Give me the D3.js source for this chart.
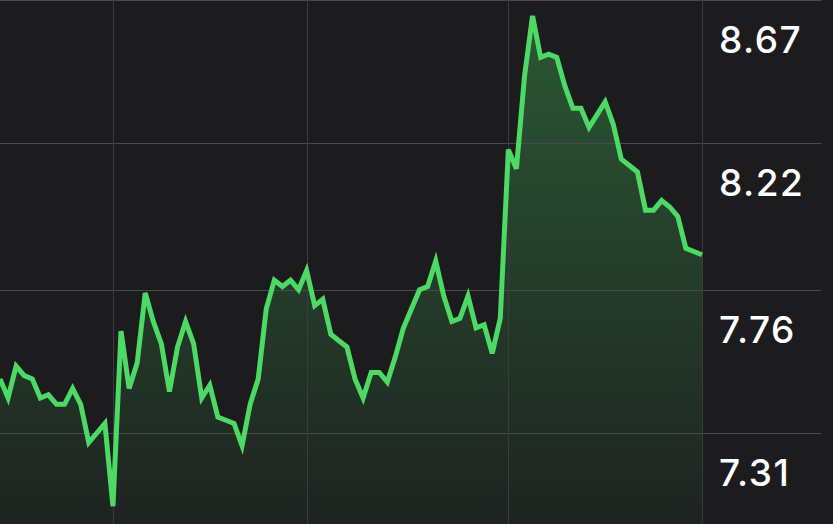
<!DOCTYPE html>
<html>
<head>
<meta charset="utf-8">
<script src="https://cdn.jsdelivr.net/npm/d3@7"></script>
<style>
body { margin: 0; background: #1c1c1e; }
</style>
</head>
<body>
<script>

// price points, one per session
var prices = [
 7.48, 7.42, 7.52, 7.49, 7.48, 7.42, 7.43, 7.40, 7.40, 7.45,
 7.40, 7.28, 7.31, 7.34, 7.08, 7.63, 7.45, 7.53, 7.75, 7.66,
 7.59, 7.44, 7.58, 7.66, 7.59, 7.42, 7.46, 7.36, 7.35, 7.34,
 7.27, 7.40, 7.48, 7.70, 7.79, 7.77, 7.79, 7.76, 7.82, 7.71,
 7.73, 7.62, 7.60, 7.58, 7.48, 7.42, 7.50, 7.50, 7.47, 7.55,
 7.64, 7.70, 7.76, 7.77, 7.85, 7.74, 7.66, 7.67, 7.74, 7.64,
 7.65, 7.56, 7.67, 8.20, 8.14, 8.43, 8.62, 8.49, 8.50, 8.49,
 8.40, 8.33, 8.33, 8.27, 8.31, 8.35, 8.28, 8.17, 8.15, 8.13,
 8.01, 8.01, 8.04, 8.02, 7.99, 7.89, 7.88, 7.87
];

// y gridlines / labels
var tickValues = [8.67, 8.22, 7.76, 7.31];
var tickLabels = ["8.67", "8.22", "7.76", "7.31"];

// index of the points where the vertical gridlines sit
var vGridIdx = [14, 38, 63, 87];

var w = 833,
    h = 524,
    plotRight = 702;

var svg = d3.select("body")
	.append("svg")
	.attr("width", w)
	.attr("height", h)
	.style("display", "block");

svg.append("rect")
	.attr("width", w)
	.attr("height", h)
	.attr("fill", "#1c1c1e");

var x = d3.scaleLinear()
	.domain([0, prices.length - 1])
	.range([0, plotRight]);

var y = d3.scaleLinear()
	.domain([7.31, 8.67])
	.range([433, 0]);

// gradient under the line
var grad = svg.append("defs").append("linearGradient")
	.attr("id", "fillGrad")
	.attr("gradientUnits", "userSpaceOnUse")
	.attr("x1", 0).attr("y1", 0)
	.attr("x2", 0).attr("y2", h);
grad.append("stop").attr("offset", "0%").attr("stop-color", "#4cd964").attr("stop-opacity", 0.32);
grad.append("stop").attr("offset", "100%").attr("stop-color", "#4cd964").attr("stop-opacity", 0.04);

var area = d3.area()
	.x(function(d, i) { return x(i); })
	.y0(h)
	.y1(function(d) { return y(d); });

svg.append("path")
	.datum(prices)
	.attr("d", area)
	.attr("fill", "url(#fillGrad)");

// grid
svg.selectAll(".hgrid")
	.data(tickValues)
	.enter()
	.append("line")
	.attr("class", "hgrid")
	.attr("x1", 0)
	.attr("x2", 821)
	.attr("y1", function(d) { return Math.round(y(d)) + 0.5; })
	.attr("y2", function(d) { return Math.round(y(d)) + 0.5; })
	.attr("stroke", "#4a4a4c")
	.attr("stroke-width", 1);

svg.selectAll(".vgrid")
	.data(vGridIdx)
	.enter()
	.append("line")
	.attr("class", "vgrid")
	.attr("x1", function(d) { return Math.round(x(d)) + 0.5; })
	.attr("x2", function(d) { return Math.round(x(d)) + 0.5; })
	.attr("y1", 0)
	.attr("y2", h)
	.attr("stroke", "#3c3c3e")
	.attr("stroke-width", 1);

var line = d3.line()
	.x(function(d, i) { return x(i); })
	.y(function(d) { return y(d); });

svg.append("path")
	.datum(prices)
	.attr("d", line)
	.attr("fill", "none")
	.attr("stroke", "#4cd964")
	.attr("stroke-width", 5)
	.attr("stroke-linejoin", "miter")
	.attr("stroke-linecap", "butt");

svg.selectAll(".lbl")
	.data(tickValues)
	.enter()
	.append("text")
	.attr("class", "lbl")
	.attr("x", 719)
	.attr("y", function(d) { return y(d) + 53; })
	.attr("fill", "#ffffff")
	.style("font-family", "Inter, Roboto, sans-serif")
	.style("font-size", "37px")
	.style("font-weight", 500)
	.style("letter-spacing", "1.5px")
	.text(function(d, i) { return tickLabels[i]; });

</script>
</body>
</html>
